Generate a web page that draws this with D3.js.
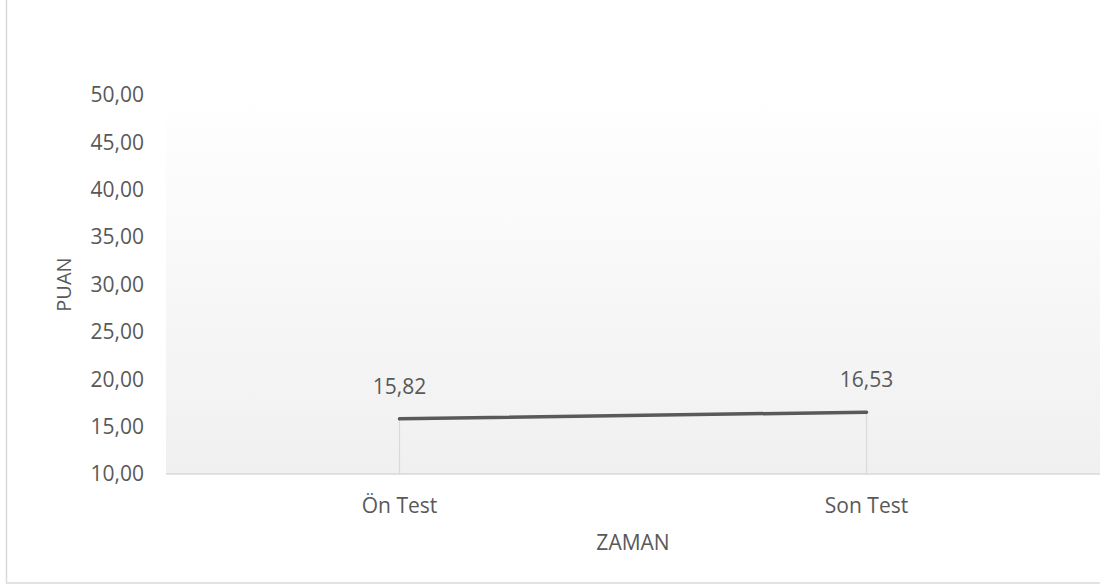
<!DOCTYPE html>
<meta charset="utf-8">
<title>PUAN / ZAMAN</title>
<style>
body { margin: 0; background: #fff; }
text { font-family: "Open Sans", sans-serif; fill: #595959; }
</style>
<svg width="1100" height="585"></svg>
<script src="https://cdn.jsdelivr.net/npm/d3@7"></script>
<script>

// chart data
var categories = ["Ön Test", "Son Test"];
var values = [15.82, 16.53];
var yTicks = [10, 15, 20, 25, 30, 35, 40, 45, 50];

var svg = d3.select("svg"),
    width = +svg.attr("width"),
    height = +svg.attr("height");

// plot area edges
var plotLeft = 166, plotRight = 1100, plotTop = 95, plotBottom = 474;

// outer chart frame (only left and bottom edges fall inside the picture)
svg.append("rect")
    .attr("x", 6.5)
    .attr("y", -10)
    .attr("width", width + 20)
    .attr("height", 593)
    .attr("fill", "none")
    .attr("stroke", "#d9d9d9")
    .attr("stroke-width", 1.5);

var x = d3.scaleBand()
    .domain(categories)
    .range([plotLeft, plotRight]);

var y = d3.scaleLinear()
    .domain([10, 50])
    .range([plotBottom, plotTop]);

function fmt(d) { return d3.format(".2f")(d).replace(".", ","); }
function cx(i) { return x(categories[i]) + x.bandwidth() / 2; }

// plot area gradient, white at top to light grey at the bottom
var grad = svg.append("defs").append("linearGradient")
    .attr("id", "bg")
    .attr("x1", 0).attr("y1", 0)
    .attr("x2", 0).attr("y2", 1);
grad.append("stop").attr("offset", "0%").attr("stop-color", "#ffffff");
grad.append("stop").attr("offset", "100%").attr("stop-color", "#f0f0f0");

svg.append("rect")
    .attr("x", plotLeft)
    .attr("y", y(50))
    .attr("width", plotRight - plotLeft)
    .attr("height", y(10) - y(50))
    .attr("fill", "url(#bg)");

// y tick labels
svg.append("g")
    .attr("transform", "translate(" + (plotLeft - 22) + ",0)")
    .selectAll("text")
    .data(yTicks)
  .enter().append("text")
    .attr("y", function(d) { return y(d); })
    .attr("dy", "0.35em")
    .attr("text-anchor", "end")
    .attr("font-size", 21)
    .text(fmt);

// drop lines from each point to the axis
svg.append("g")
    .selectAll("line")
    .data(values)
  .enter().append("line")
    .attr("x1", function(d, i) { return cx(i); })
    .attr("x2", function(d, i) { return cx(i); })
    .attr("y1", function(d) { return y(d); })
    .attr("y2", y(10))
    .attr("stroke", "#d9d9d9")
    .attr("stroke-width", 1.2);

// x axis line
svg.append("line")
    .attr("x1", plotLeft)
    .attr("x2", plotRight)
    .attr("y1", y(10))
    .attr("y2", y(10))
    .attr("stroke", "#d9d9d9")
    .attr("stroke-width", 1.5);

// category labels
svg.append("g")
    .selectAll("text")
    .data(categories)
  .enter().append("text")
    .attr("x", function(d, i) { return cx(i); })
    .attr("y", 513)
    .attr("text-anchor", "middle")
    .attr("font-size", 21)
    .text(function(d) { return d; });

// the line
var line = d3.line()
    .x(function(d, i) { return cx(i); })
    .y(function(d) { return y(d); });

svg.append("path")
    .datum(values)
    .attr("d", line)
    .attr("fill", "none")
    .attr("stroke", "#595959")
    .attr("stroke-width", 3.5)
    .attr("stroke-linecap", "round");

// data labels
svg.append("g")
    .selectAll("text")
    .data(values)
  .enter().append("text")
    .attr("x", function(d, i) { return cx(i); })
    .attr("y", function(d) { return y(d) - 25; })
    .attr("text-anchor", "middle")
    .attr("font-size", 21)
    .text(fmt);

// axis titles
svg.append("text")
    .attr("x", (plotLeft + plotRight) / 2)
    .attr("y", 550)
    .attr("text-anchor", "middle")
    .attr("font-size", 21)
    .text("ZAMAN");

svg.append("text")
    .attr("transform", "translate(71," + ((plotTop + plotBottom) / 2) + ") rotate(-90)")
    .attr("text-anchor", "middle")
    .attr("font-size", 20)
    .text("PUAN");

</script>
